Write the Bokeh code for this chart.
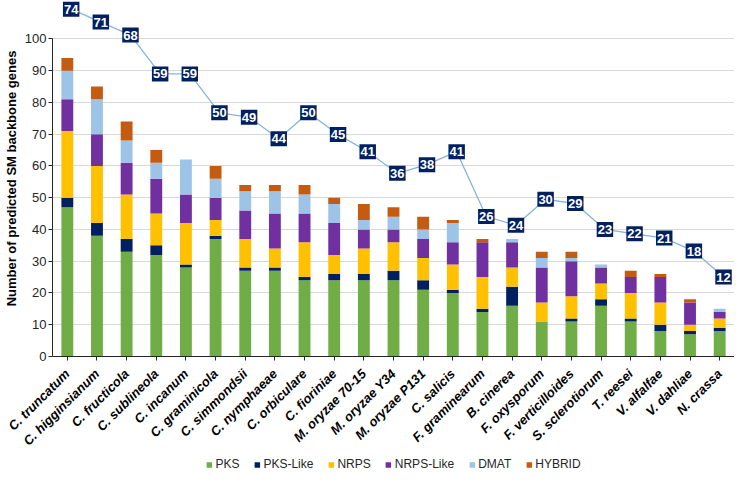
import math
from bokeh.plotting import figure
from bokeh.layouts import column
from bokeh.models import (ColumnDataSource, FactorRange, Range1d, FixedTicker,
                          Legend, LegendItem)
from bokeh.core.properties import value
from bokeh.transform import dodge
from bokeh.embed import file_html
from bokeh.resources import INLINE

species = ["C. truncatum", "C. higginsianum", "C. fructicola", "C. sublineola",
           "C. incanum", "C. graminicola", "C. simmondsii", "C. nymphaeae",
           "C. orbiculare", "C. fioriniae", "M. oryzae 70-15", "M. oryzae Y34",
           "M. oryzae P131", "C. salicis", "F. graminearum", "B. cinerea",
           "F. oxysporum", "F. verticilloides", "S. sclerotiorum", "T. reesei",
           "V. alfalfae", "V. dahliae", "N. crassa"]

pks       = [47, 38, 33, 32, 28, 37, 27, 27, 24, 24, 24, 24, 21, 20, 14, 16, 11, 11, 16, 11, 8, 7, 8]
pks_like  = [3, 4, 4, 3, 1, 1, 1, 1, 1, 2, 2, 3, 3, 1, 1, 6, 0, 1, 2, 1, 2, 1, 1]
nrps      = [21, 18, 14, 10, 13, 5, 9, 6, 11, 6, 8, 9, 7, 8, 10, 6, 6, 7, 5, 8, 7, 2, 3]
nrps_like = [10, 10, 10, 11, 9, 7, 9, 11, 9, 10, 6, 4, 6, 7, 11, 8, 11, 11, 5, 5, 8, 7, 2]
dmat      = [9, 11, 7, 5, 11, 6, 6, 7, 6, 6, 3, 4, 3, 6, 0, 1, 3, 1, 1, 0, 0, 0, 1]
hybrid    = [4, 4, 6, 4, 0, 4, 2, 2, 3, 2, 5, 3, 4, 1, 1, 0, 2, 2, 0, 2, 1, 1, 0]

line_values = [74, 71, 68, 59, 59, 50, 49, 44, 50, 45, 41, 36, 38, 41, 26, 24, 30, 29, 23, 22, 21, 18, 12]

series_names = ["PKS", "PKS-Like", "NRPS", "NRPS-Like", "DMAT", "HYBRID"]
series_colors = ["#70AD47", "#002060", "#FFC000", "#7030A0", "#9DC3E6", "#C55A11"]
y_ticks = [0, 10, 20, 30, 40, 50, 60, 70, 80, 90, 100]

FONT = "Liberation Sans"

source = ColumnDataSource(dict(species=species, PKS=pks, PKS_Like=pks_like, NRPS=nrps,
                               NRPS_Like=nrps_like, DMAT=dmat, HYBRID=hybrid))
stack_keys = ["PKS", "PKS_Like", "NRPS", "NRPS_Like", "DMAT", "HYBRID"]

p = figure(width=734, height=456, output_backend="svg", toolbar_location=None,
           x_range=FactorRange(*species), y_range=Range1d(0, 112.1),
           min_border_top=0, min_border_right=0, min_border_bottom=0, min_border_left=10)
p.outline_line_color = None
p.background_fill_color = "white"
p.border_fill_color = "white"

# extra y range for the total line
p.extra_y_ranges = {"ly": Range1d(-6.4, 76.0)}

renderers = p.vbar_stack(stack_keys, x="species", width=0.4, color=series_colors,
                         line_color=None, source=source)

# axes styling
p.xgrid.grid_line_color = None
p.ygrid.grid_line_color = "#D9D9D9"
p.ygrid.grid_line_width = 1
p.ygrid.ticker = FixedTicker(ticks=y_ticks)
p.ygrid.bounds = (0, 100)

yax = p.yaxis[0]
yax.ticker = FixedTicker(ticks=y_ticks)
yax.bounds = (0, 100)
yax.axis_line_color = "#262626"
yax.major_tick_line_color = "#262626"
yax.major_tick_out = 4
yax.major_tick_in = 0
yax.minor_tick_line_color = None
yax.major_label_text_font = FONT
yax.major_label_text_font_size = "13px"
yax.major_label_text_color = "#262626"
yax.major_label_standoff = 2
yax.axis_label = "Number of predicted SM backbone genes"
yax.axis_label_text_font = FONT
yax.axis_label_text_font_size = "13px"
yax.axis_label_text_font_style = "bold"
yax.axis_label_text_color = "#000000"
yax.axis_label_standoff = 3

xax = p.xaxis[0]
xax.axis_line_color = "#262626"
xax.major_tick_line_color = "#262626"
xax.major_tick_out = 4
xax.major_tick_in = 0
xax.major_label_orientation = math.pi / 4
xax.major_label_text_font = FONT
xax.major_label_text_font_size = "13px"
xax.major_label_text_font_style = "bold italic"
xax.major_label_text_color = "#000000"
xax.major_label_standoff = 11

# total line with labels
line_src = ColumnDataSource(dict(species=species, val=line_values,
                                 txt=[str(v) for v in line_values]))
lx = dodge("species", 0.13, range=p.x_range)
p.line(x=lx, y="val", source=line_src, y_range_name="ly",
       line_color="#86B3E0", line_width=1.3)
p.text(x=lx, y="val", text="txt", source=line_src, y_range_name="ly",
       text_align="center", text_baseline="middle",
       text_font=value(FONT), text_font_size="13px", text_font_style="bold",
       text_color="white", background_fill_color="#002060",
       padding=(1, 3))

# legend in a separate strip below the chart (zero-height proxy bars carry the colours)
p2 = figure(width=734, height=16, output_backend="svg", toolbar_location=None,
            x_axis_location=None, y_axis_location=None, min_border=0,
            x_range=Range1d(0, 1), y_range=Range1d(0, 1))
p2.outline_line_color = None
p2.xgrid.grid_line_color = None
p2.ygrid.grid_line_color = None
proxies = [p2.vbar(x=[0.5], top=[0], bottom=[0], width=0.001, fill_color=c, line_color=None)
           for c in series_colors]
legend = Legend(items=[LegendItem(label=n, renderers=[r]) for n, r in zip(series_names, proxies)],
                orientation="horizontal", location="center",
                label_text_font=FONT, label_text_font_size="12px", label_text_color="#262626",
                label_height=12, glyph_width=7, glyph_height=7, label_standoff=3, spacing=14,
                border_line_color=None, background_fill_alpha=0, margin=0, padding=1)
p2.add_layout(legend, "center")

open("out.html", "w").write(file_html(column(p, p2, spacing=0), INLINE))
